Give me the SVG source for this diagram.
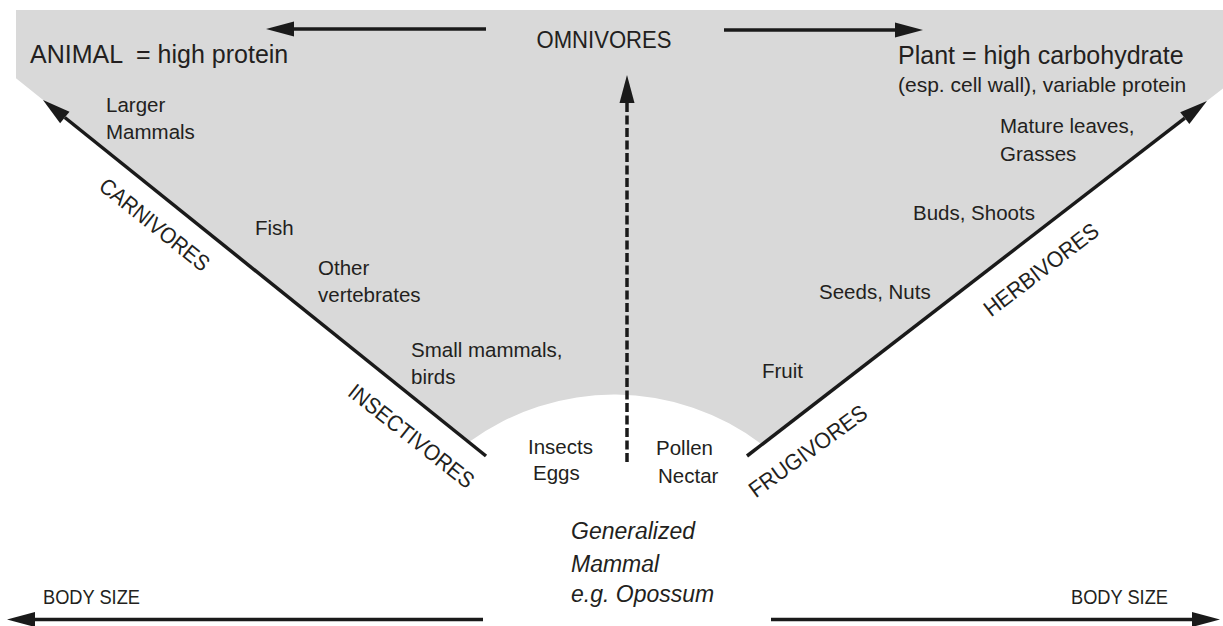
<svg xmlns="http://www.w3.org/2000/svg" width="1223" height="626" viewBox="0 0 1223 626">
<style>
text{font-family:"Liberation Sans",Arial,sans-serif;fill:#231f20}
.lbl{font-size:20.5px}
.big{font-size:25px}
.rot{font-size:22.5px;text-anchor:middle}
.ital{font-size:23px;font-style:italic}
.bs{font-size:20px}
.ln{stroke:#1a1a1a;stroke-width:3.5;fill:none}
</style>
<defs>
<marker id="ah" markerUnits="userSpaceOnUse" markerWidth="30" markerHeight="16" refX="0" refY="7.5" orient="auto" overflow="visible">
<path d="M0,0 L28,7.5 L0,15 Z" fill="#1a1a1a"/>
</marker>
</defs>
<g id="background">
<path d="M16,10 H1223 V88.5 L762,444.5 A245,245 0 0 0 469,442 L16,78.3 Z" fill="#d9d9d9"/>
</g>
<g id="connectors">
<line class="ln" x1="486" y1="29" x2="294" y2="29" marker-end="url(#ah)"/>
<line class="ln" x1="724" y1="30" x2="895" y2="30" marker-end="url(#ah)"/>
<line class="ln" x1="627" y1="462" x2="627" y2="103" stroke-dasharray="9 3.5" marker-end="url(#ah)"/>
<line class="ln" x1="486" y1="456" x2="64.8" y2="117.5" marker-end="url(#ah)"/>
<line class="ln" x1="747" y1="456" x2="1184.8" y2="118.1" marker-end="url(#ah)"/>
<line class="ln" x1="483" y1="619.5" x2="35" y2="619.5" marker-end="url(#ah)"/>
<line class="ln" x1="771" y1="619.5" x2="1192" y2="619.5" marker-end="url(#ah)"/>
</g>
<g id="animal"><text class="big" x="30" y="63" xml:space="preserve">ANIMAL  = high protein</text></g>
<g id="omnivores"><text x="604" y="48" font-size="23.5" text-anchor="middle" textLength="135" lengthAdjust="spacingAndGlyphs">OMNIVORES</text></g>
<g id="plant">
<text class="big" x="898" y="64">Plant = high carbohydrate</text>
<text x="898" y="92" font-size="21">(esp. cell wall), variable protein</text>
</g>
<g id="larger-mammals"><text class="lbl" x="106" y="112">Larger</text><text class="lbl" x="106" y="138.5">Mammals</text></g>
<g id="fish"><text class="lbl" x="255" y="235">Fish</text></g>
<g id="other-vertebrates"><text class="lbl" x="318" y="275">Other</text><text class="lbl" x="318" y="302">vertebrates</text></g>
<g id="small-mammals"><text class="lbl" x="411" y="357">Small mammals,</text><text class="lbl" x="411" y="383.5">birds</text></g>
<g id="insects"><text class="lbl" x="528" y="454">Insects</text><text class="lbl" x="533" y="480">Eggs</text></g>
<g id="pollen"><text class="lbl" x="656" y="455">Pollen</text><text class="lbl" x="658" y="483">Nectar</text></g>
<g id="generalized"><text class="ital" x="571" y="539">Generalized</text><text class="ital" x="571" y="572">Mammal</text><text class="ital" x="571" y="602">e.g. Opossum</text></g>
<g id="fruit"><text class="lbl" x="762" y="378">Fruit</text></g>
<g id="seeds"><text class="lbl" x="819" y="299">Seeds, Nuts</text></g>
<g id="buds"><text class="lbl" x="913" y="220">Buds, Shoots</text></g>
<g id="mature"><text class="lbl" x="1000" y="133">Mature leaves,</text><text class="lbl" x="1000" y="161">Grasses</text></g>
<g id="carnivores"><text class="rot" transform="translate(149.8,230.6) rotate(38.7)" textLength="134" lengthAdjust="spacingAndGlyphs">CARNIVORES</text></g>
<g id="insectivores"><text class="rot" transform="translate(406.6,442.2) rotate(38.3)" textLength="153" lengthAdjust="spacingAndGlyphs">INSECTIVORES</text></g>
<g id="frugivores"><text class="rot" transform="translate(812.5,457.4) rotate(-36)" textLength="140" lengthAdjust="spacingAndGlyphs">FRUGIVORES</text></g>
<g id="herbivores"><text class="rot" transform="translate(1045.8,275.8) rotate(-37.3)" textLength="138" lengthAdjust="spacingAndGlyphs">HERBIVORES</text></g>
<g id="body-size-left"><text class="bs" x="43" y="604" textLength="97" lengthAdjust="spacingAndGlyphs">BODY SIZE</text></g>
<g id="body-size-right"><text class="bs" x="1071" y="604" textLength="97" lengthAdjust="spacingAndGlyphs">BODY SIZE</text></g>
</svg>
